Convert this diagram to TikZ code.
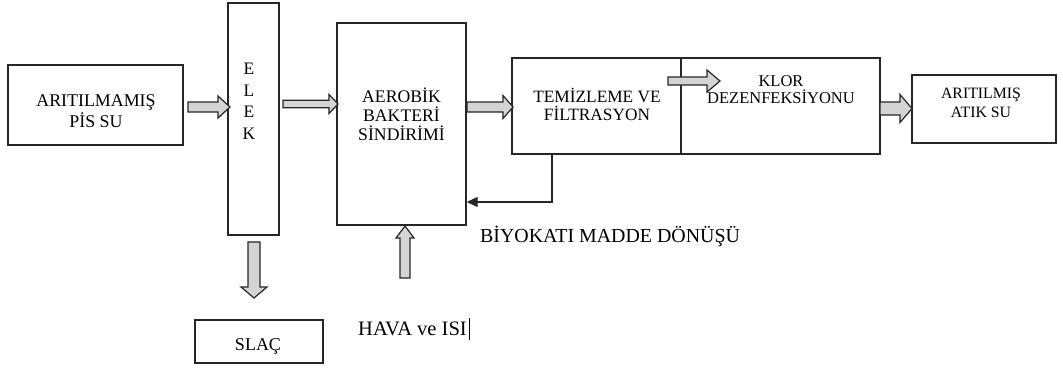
\documentclass[tikz,border=0pt]{standalone}
\usepackage{fontspec}
\setmainfont{Liberation Serif}
\usetikzlibrary{arrows.meta,calc}
\newcommand\rblock[6]{% x0, head start, tip, yc, shaft half, head half
  \draw[barrow] (#1,#4-#5) -- (#2,#4-#5) -- (#2,#4-#6) -- (#3,#4) -- (#2,#4+#6) -- (#2,#4+#5) -- (#1,#4+#5) -- cycle;}
\newcommand\vblock[6]{% y0, head start, tip, xc, shaft half, head half
  \draw[barrow] (#4-#5,#1) -- (#4-#5,#2) -- (#4-#6,#2) -- (#4,#3) -- (#4+#6,#2) -- (#4+#5,#2) -- (#4+#5,#1) -- cycle;}
\begin{document}
\begin{tikzpicture}[x=1pt,y=-1pt,
  box/.style={draw=black!85, line width=1.4pt, inner sep=0pt},
  lbl/.style={align=center, inner sep=0pt},
  barrow/.style={draw=black!85, fill=black!17, line width=1.2pt, line join=miter},
  fb/.style={draw=black!85, line width=1.2pt, -{Triangle[length=11pt,width=10pt]}}
]
\useasboundingbox (0,0) rectangle (1063,367);
% boxes
\node[box, minimum width=175pt, minimum height=80pt]  (raw)   at (95.5,105) {};
\node[box, minimum width=51pt,  minimum height=232pt] (elek)  at (253.5,119) {};
\node[box, minimum width=129pt, minimum height=202pt] (aero)  at (401.5,124) {};
\node[box, minimum width=169pt, minimum height=96pt]  (temiz) at (596.5,106) {};
\node[box, minimum width=199pt, minimum height=96pt]  (klor)  at (780.5,106) {};
\node[box, minimum width=144pt, minimum height=68pt]  (atik)  at (984,109) {};
\node[box, minimum width=128pt, minimum height=43pt]  (slac)  at (259,341.5) {};
% labels
\node[lbl, font=\fontsize{17.9}{21}\selectfont] (trraw) at (96,111.5) {ARITILMAMIŞ\\PİS SU};
\node[lbl, font=\fontsize{17.5}{21.5}\selectfont] (trelek) at (249,101.5) {E\\L\\E\\K};
\node[lbl, font=\fontsize{17.7}{19}\selectfont] (traero) at (401.5,114) {AEROBİK\\BAKTERİ\\SİNDİRİMİ};
\node[lbl, font=\fontsize{17.3}{18}\selectfont] (trtemiz) at (597,104.5) {TEMİZLEME VE\\FİLTRASYON};
\node[lbl, font=\fontsize{16.5}{17}\selectfont] (trklor) at (781,90) {KLOR\\DEZENFEKSİYONU};
\node[lbl, font=\fontsize{15.8}{19}\selectfont] (tratik) at (981,102.5) {ARITILMIŞ\\ATIK SU};
\node[lbl, font=\fontsize{18}{20}\selectfont, anchor=base] (trslac) at (258,350) {SLAÇ};
\node[lbl, font=\fontsize{19.9}{22}\selectfont, anchor=base west] (bio) at (480,242) {BİYOKATI MADDE DÖNÜŞÜ};
\node[lbl, font=\fontsize{20.5}{22}\selectfont, anchor=base west] (hava) at (358,335) {HAVA ve ISI};
\draw[line width=0.8pt] (469,318) -- (469,340);
% block arrows
\rblock{188}{218}{230}{107}{5}{11}
\rblock{283}{329}{338}{104}{3.8}{9.5}
\rblock{467}{503}{513}{107}{5}{11.5}
\rblock{668}{707}{720}{81}{4}{11}
\rblock{880}{900}{912}{108.5}{6.5}{14}
\vblock{242}{287}{298}{254}{6}{13}
\vblock{278}{238}{226}{405}{5}{9}
% feedback
\coordinate (fbend) at (552,202);
\draw[fb] (temiz.south -| fbend) -- (fbend) -- (fbend -| aero.east);
\end{tikzpicture}
\end{document}
